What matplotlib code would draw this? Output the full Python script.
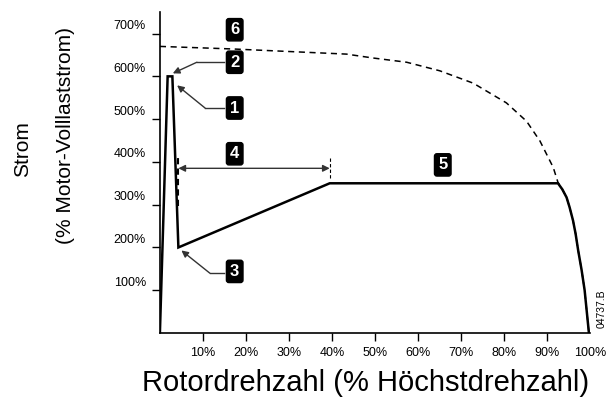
import matplotlib
matplotlib.use("Agg")
import matplotlib.pyplot as plt
from matplotlib.transforms import ScaledTranslation

plt.rcParams['font.family'] = ['Liberation Sans', 'DejaVu Sans']

# soft start current curve (solid)
speed = [0, 1.8, 2.9, 4.3, 39.5, 92.6, 93.6, 94.6, 95.3, 96.1, 96.7, 97.3, 98.1, 98.8, 99.8]
current = [0, 600, 600, 200, 350, 350, 336, 317, 294, 263, 232, 193, 147, 100, 0]

# direct-on-line current (dashed)
dol_speed = [0, 17, 43.4, 49.5, 57.4, 65.1, 72.9, 80.6, 85.3, 88.4, 91.5, 92.6,
             93.6, 94.6, 95.3, 96.1, 96.7, 97.3, 98.1, 98.8, 99.8]
dol_current = [670, 664, 652, 643, 633, 613, 584, 538, 495, 449, 387, 352,
               336, 317, 294, 263, 232, 193, 147, 100, 0]

x_ticks = [10, 20, 30, 40, 50, 60, 70, 80, 90, 100]
y_ticks = [100, 200, 300, 400, 500, 600, 700]

# numbered markers: label, box position
boxes = [("6", 17.4, 709), ("2", 17.4, 633), ("1", 17.4, 526),
         ("4", 17.4, 419), ("3", 17.4, 144), ("5", 65.8, 393)]
# leader arrows: box edge x, y, corner x, tip x, tip y
leaders = [(14.9, 633, 8.6, 3.0, 607), (14.9, 526, 10.5, 4.0, 579), (14.9, 140, 11.6, 5.0, 193)]

fig = plt.figure(figsize=(6.15, 4.01), dpi=100)
ax = fig.add_axes([0.260, 0.1696, 0.699, 0.80])

ax.plot(dol_speed, dol_current, color='black', lw=1.1, ls=(0, (4, 3)))
ax.plot(speed, current, color='black', lw=1.8, solid_joinstyle='miter')

ax.set_xlim(0, 100)
ax.set_ylim(0, 750)
ax.spines['top'].set_visible(False)
ax.spines['right'].set_visible(False)
ax.spines['left'].set_linewidth(1.2)
ax.spines['bottom'].set_linewidth(1.2)

ax.set_xticks(x_ticks)
ax.set_xticklabels([f"{v}%" for v in x_ticks], fontsize=9)
ax.set_yticks(y_ticks)
ax.set_yticklabels([f"{v}%" for v in y_ticks], fontsize=9)
ax.tick_params(direction='out', length=6, width=1, pad=4, color='black')
ax.xaxis.get_major_ticks()[-1].tick1line.set_visible(False)
for lab in ax.get_yticklabels():
    lab.set_transform(lab.get_transform() + ScaledTranslation(0, 0.09, fig.dpi_scale_trans))

# leader lines
for bx, by, cx, tx, ty in leaders:
    ax.plot([bx, cx], [by, by], color='#333333', lw=1)
    ax.annotate("", xy=(tx, ty), xytext=(cx, by),
                arrowprops=dict(arrowstyle='-|>', color='#333333', lw=1,
                                mutation_scale=10, shrinkA=0, shrinkB=0))

# acceleration span arrow
ax.annotate("", xy=(4.3, 385), xytext=(39.5, 385),
            arrowprops=dict(arrowstyle='<|-|>', color='#333333', lw=1,
                            mutation_scale=10, shrinkA=0, shrinkB=0))
ax.plot([4.3, 4.3], [298, 414], color='black', lw=1.5, ls=(0, (3, 2)))
ax.plot([39.5, 39.5], [363, 410], color='black', lw=0.8, ls=(0, (3, 2)))

for txt, bx, by in boxes:
    ax.text(bx, by, txt, color='white', fontsize=12, fontweight='bold',
            ha='center', va='center', zorder=5,
            bbox=dict(boxstyle='round,pad=0.22,rounding_size=0.15', fc='black', ec='black'))

fig.text(0.978, 0.23, "04737.B", rotation=90, fontsize=7.5, ha='center', va='center')

fig.text(0.036, 0.628, "Strom", rotation=90, fontsize=15, ha='center', va='center')
fig.text(0.106, 0.663, "(% Motor-Volllaststrom)", rotation=90, fontsize=15, ha='center', va='center')
fig.text(0.594, 0.045, "Rotordrehzahl (% Höchstdrehzahl)", fontsize=21, ha='center', va='center')

fig.savefig("out.png", dpi=100)
